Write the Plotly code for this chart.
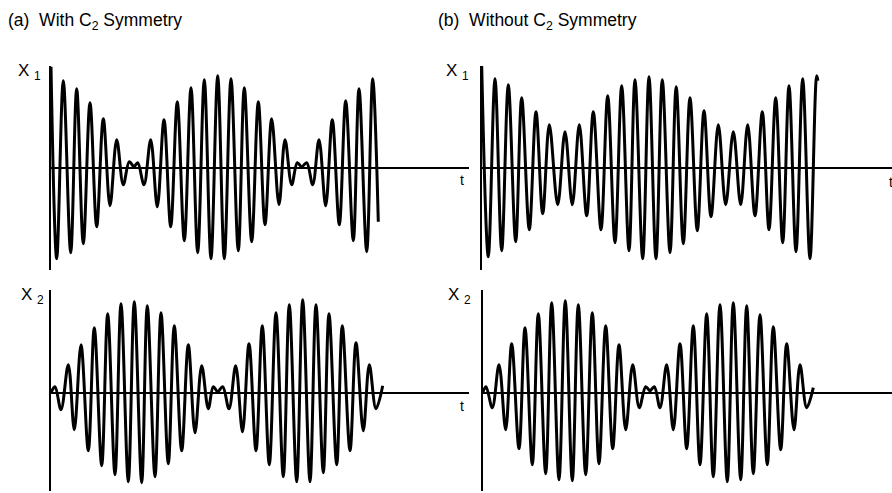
import plotly.graph_objects as go

# Extrema of each oscillation (time t, displacement), left to right.
# (a) with C2 symmetry
a_x1_t = [0.00, 0.57, 1.23, 1.97, 2.57, 3.23, 3.90, 4.57, 5.23, 5.90, 6.57, 7.23, 7.83, 8.30, 8.67,
          9.30, 9.97, 10.63, 11.30, 11.97, 12.63, 13.33, 14.00, 14.67, 15.33, 16.00, 16.67, 17.33,
          18.00, 18.73, 19.33, 20.07, 20.73, 21.40, 22.07, 22.80, 23.40, 24.07, 24.63, 25.07, 25.57,
          26.17, 26.80, 27.47, 28.13, 28.83, 29.47, 30.23, 30.80, 31.57, 32.17, 32.73]
a_x1 = [1.01, -0.91, 0.87, -0.85, 0.79, -0.76, 0.65, -0.59, 0.49, -0.38, 0.28, -0.17, 0.06, 0.01, 0.05,
        -0.17, 0.28, -0.39, 0.48, -0.59, 0.66, -0.73, 0.80, -0.85, 0.88, -0.91, 0.92, -0.91,
        0.89, -0.83, 0.80, -0.74, 0.66, -0.57, 0.49, -0.37, 0.28, -0.17, 0.05, 0.01, 0.05,
        -0.17, 0.28, -0.38, 0.48, -0.57, 0.67, -0.73, 0.79, -0.84, 0.89, -0.54]

a_x2_t = [0.00, 0.40, 1.00, 1.73, 2.33, 3.00, 3.73, 4.33, 5.07, 5.67, 6.40, 7.00, 7.73, 8.33, 9.07,
          9.63, 10.40, 11.00, 11.73, 12.33, 13.07, 13.73, 14.40, 15.07, 15.73, 16.23, 16.67, 17.17,
          17.80, 18.47, 19.15, 19.80, 20.50, 21.13, 21.83, 22.50, 23.23, 23.83, 24.57, 25.17, 25.90,
          26.50, 27.23, 27.80, 28.57, 29.13, 29.90, 30.50, 31.23, 31.83, 32.50, 33.17]
a_x2 = [0.00, 0.06, -0.17, 0.28, -0.37, 0.48, -0.58, 0.65, -0.73, 0.79, -0.82, 0.89, -0.89, 0.91, -0.90,
        0.87, -0.84, 0.80, -0.71, 0.67, -0.58, 0.48, -0.40, 0.27, -0.16, 0.06, 0.01, 0.06,
        -0.16, 0.27, -0.39, 0.49, -0.58, 0.67, -0.72, 0.80, -0.84, 0.88, -0.89, 0.93, -0.89,
        0.88, -0.80, 0.79, -0.72, 0.67, -0.58, 0.50, -0.38, 0.28, -0.16, 0.07]

# (b) without C2 symmetry
b_x1_t = [0.00, 0.66, 1.33, 2.00, 2.66, 3.40, 4.00, 4.76, 5.43, 6.10, 6.76, 7.60, 8.33, 9.06, 9.76,
          10.50, 11.16, 11.93, 12.60, 13.33, 14.00, 14.73, 15.33, 16.10, 16.73, 17.43, 18.06, 18.83,
          19.45, 20.16, 20.83, 21.56, 22.23, 22.93, 23.66, 24.40, 25.16, 25.90, 26.60, 27.33, 28.06,
          28.73, 29.40, 30.10, 30.73, 31.43, 32.10, 32.83, 33.50, 33.62]
b_x1 = [1.02, -0.89, 0.89, -0.83, 0.83, -0.74, 0.70, -0.62, 0.56, -0.46, 0.43, -0.37, 0.36, -0.37, 0.43,
        -0.48, 0.56, -0.62, 0.72, -0.75, 0.82, -0.83, 0.88, -0.91, 0.91, -0.91, 0.88, -0.85,
        0.81, -0.76, 0.70, -0.63, 0.57, -0.49, 0.43, -0.37, 0.36, -0.37, 0.43, -0.48, 0.56,
        -0.62, 0.70, -0.75, 0.82, -0.84, 0.89, -0.91, 0.92, 0.87]

b_x2_t = [0.00, 0.33, 0.96, 1.63, 2.30, 2.90, 3.63, 4.23, 4.96, 5.56, 6.30, 6.90, 7.63, 8.26, 8.96,
          9.56, 10.30, 10.96, 11.63, 12.30, 13.00, 13.63, 14.30, 15.00, 15.66, 16.30, 16.73, 17.16,
          17.73, 18.40, 19.06, 19.73, 20.40, 21.06, 21.73, 22.40, 23.06, 23.73, 24.46, 25.06, 25.80,
          26.40, 27.06, 27.73, 28.46, 29.06, 29.80, 30.40, 31.13, 31.73, 32.40, 33.06]
b_x2 = [0.00, 0.06, -0.15, 0.28, -0.37, 0.49, -0.56, 0.65, -0.72, 0.79, -0.81, 0.90, -0.87, 0.92, -0.88,
        0.88, -0.82, 0.80, -0.71, 0.67, -0.56, 0.48, -0.37, 0.28, -0.15, 0.06, 0.02, 0.06,
        -0.15, 0.28, -0.37, 0.49, -0.56, 0.67, -0.72, 0.79, -0.84, 0.88, -0.89, 0.90, -0.87,
        0.87, -0.81, 0.78, -0.72, 0.66, -0.57, 0.49, -0.37, 0.28, -0.15, 0.05]

W, H = 892, 493
FONT = "Liberation Sans, Arial, Helvetica, sans-serif"

# panel geometry in pixels: left edge (vertical axis), right end of the t line,
# top and bottom of the vertical axis, pixel row of the t line
panels = [
    dict(t=a_x1_t, v=a_x1, left=51.0, right=469.0, top=66, bottom=270, zero=167.7),
    dict(t=b_x1_t, v=b_x1, left=481.7, right=892.0, top=66, bottom=270, zero=167.7),
    dict(t=a_x2_t, v=a_x2, left=51.0, right=469.0, top=290, bottom=491, zero=392.7),
    dict(t=b_x2_t, v=b_x2, left=482.7, right=892.0, top=290, bottom=491, zero=392.7),
]
PX_PER_T = 10.0    # horizontal pixels per unit of t
PX_PER_V = 100.0   # vertical pixels per unit of displacement

fig = go.Figure()
layout = {}
for i, p in enumerate(panels, start=1):
    xa = "x" if i == 1 else f"x{i}"
    ya = "y" if i == 1 else f"y{i}"
    fig.add_trace(go.Scatter(
        x=p["t"], y=p["v"], mode="lines",
        line=dict(color="black", width=3.0, shape="spline", smoothing=1.0),
        xaxis=xa, yaxis=ya, hoverinfo="skip", showlegend=False))
    xr = [0, (p["right"] - p["left"]) / PX_PER_T]
    yr = [(p["zero"] - p["bottom"]) / PX_PER_V, (p["zero"] - p["top"]) / PX_PER_V]
    key = "" if i == 1 else str(i)
    layout["xaxis" + key] = dict(
        domain=[p["left"] / W, p["right"] / W], range=xr, anchor=ya,
        showgrid=False, zeroline=False, showline=False, showticklabels=False, ticks="")
    layout["yaxis" + key] = dict(
        domain=[1 - p["bottom"] / H, 1 - p["top"] / H], range=yr, anchor=xa,
        showgrid=False, showticklabels=False, ticks="",
        showline=True, linecolor="black", linewidth=1.6,
        zeroline=True, zerolinecolor="black", zerolinewidth=1.6)

fig.update_layout(**layout)

def label(text, x, y, size, xanchor="left"):
    fig.add_annotation(text=text, x=x / W, y=1 - y / H, xref="paper", yref="paper",
                       xanchor=xanchor, yanchor="middle", showarrow=False,
                       font=dict(family=FONT, size=size, color="black"))

label("(a)  With C<sub>2</sub> Symmetry", 6, 21, 17.5)
label("(b)  Without C<sub>2</sub> Symmetry", 436, 21, 17.5)
label("X <sub>1</sub>", 16, 72, 17)
label("X <sub>1</sub>", 444, 72, 17)
label("X <sub>2</sub>", 19, 296, 17)
label("X <sub>2</sub>", 446, 296, 17)
label("t", 462, 180, 14, "center")
label("t", 462, 406, 14, "center")
label("t", 891, 182, 14, "center")

fig.update_layout(
    width=W, height=H,
    margin=dict(l=0, r=0, t=0, b=0),
    paper_bgcolor="white", plot_bgcolor="white",
)

fig.write_html("out.html")
